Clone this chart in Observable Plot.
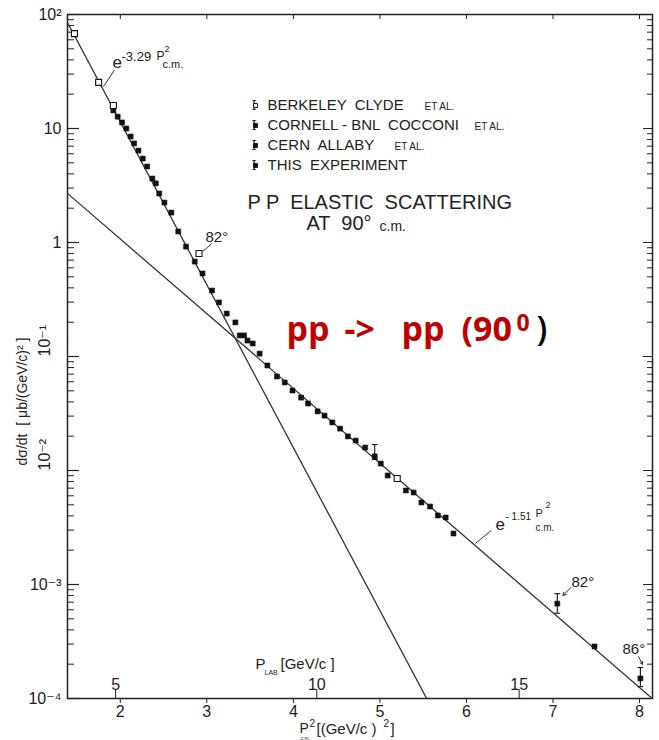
<!DOCTYPE html>
<html>
<head>
<meta charset="utf-8">
<script src="https://cdn.jsdelivr.net/npm/d3@7"></script>
<script src="https://cdn.jsdelivr.net/npm/@observablehq/plot@0.6"></script>
<style>
  html, body { margin: 0; padding: 0; background: #fff; }
  #chart svg { display: block; }
</style>
</head>
<body>
<div id="chart"></div>
<script>
// p² (c.m.) in (GeV/c)², dσ/dt in μb/(GeV/c)²
const berkeleyP2 = [1.47, 1.75, 1.92, 2.91, 5.20];
const berkeleyXS = [68, 25.4, 15.9, 0.80, 0.0085];

const thisP2 = [1.92, 1.97, 2.02, 2.07, 2.12, 2.16, 2.21, 2.26, 2.31, 2.37, 2.41, 2.45, 2.51, 2.59,
  2.67, 2.76, 2.86, 2.95, 3.06, 3.14, 3.23, 3.33, 3.38, 3.43, 3.47, 3.53, 3.61, 3.70, 3.81, 3.90,
  3.99, 4.09, 4.17, 4.28, 4.36, 4.45, 4.54, 4.63, 4.72, 4.83, 5.01, 5.09, 5.30, 5.39, 5.48, 5.58,
  5.67, 5.76, 5.85];
const thisXS = [14.4, 12.7, 11.3, 10.0, 8.5, 7.4, 6.4, 5.45, 4.64, 3.64, 3.30, 2.69, 2.24, 1.83,
  1.25, 0.92, 0.68, 0.535, 0.379, 0.298, 0.238, 0.199, 0.153, 0.153, 0.138, 0.130, 0.106, 0.0834,
  0.0668, 0.0592, 0.0503, 0.0436, 0.0387, 0.0330, 0.0303, 0.0264, 0.0233, 0.0199, 0.0183, 0.0159,
  0.0115, 0.00904, 0.00668, 0.00641, 0.00524, 0.00483, 0.00403, 0.00387, 0.00280];

const cernP2 = [4.94];
const cernXS = [0.0133];

const cornellP2 = [7.05, 7.48, 8.01];
const cornellXS = [6.8e-4, 2.86e-4, 1.5e-4];

// error bars
const errP2 = [4.94, 7.05, 8.01];
const errLo = [0.0125, 5.6e-4, 1.27e-4];
const errHi = [0.0169, 8.3e-4, 1.87e-4];

// fits A·exp(−b·p²)
const fitSlopes = [3.29, 1.51];
const fitAmps = [8240, 22];

// axes
const p2Ticks = [2, 3, 4, 5, 6, 7, 8];
const decadeTicks = [1e-4, 1e-3, 1e-2, 1e-1, 1, 10, 100];
const decadeLabels = ["10⁻⁴", "10⁻³", "10⁻²", "10⁻¹", "1", "10", "10²"];
const plabTicks = [5, 10, 15]; // GeV/c

const protonMass = 0.938;
const plabToP2 = p => protonMass * (Math.sqrt(p * p + protonMass * protonMass) - protonMass) / 2;

const xDomain = [1.39, 8.15];
const yDomain = [1e-4, 1e2];

const minorTicks = [];
for (let e = -4; e < 2; e++) for (let k = 2; k <= 9; k++) minorTicks.push(k * 10 ** e);

const pts = (xs, ys) => xs.map((x, i) => ({x, y: ys[i]}));
const berkeleyPts = pts(berkeleyP2, berkeleyXS);
const filledPts = pts(thisP2, thisXS).concat(pts(cernP2, cernXS), pts(cornellP2, cornellXS));
const errs = errP2.map((x, i) => ({x, lo: errLo[i], hi: errHi[i]}));
const fitLines = fitSlopes.flatMap((b, k) => xDomain.map(x => ({fit: k, x, y: fitAmps[k] * Math.exp(-b * x)})));

// leader lines for the annotations (data space)
const leaders = [
  {x1: 1.805, y1: 23.3, x2: 1.931, y2: 32.3},
  {x1: 2.954, y1: 0.834, x2: 3.057, y2: 0.98},
  {x1: 6.103, y1: 0.00229, x2: 6.287, y2: 0.00298}
];
const arrows = [
  {x1: 7.207, y1: 9.42e-4, x2: 7.115, y2: 8.02e-4},
  {x1: 7.989, y1: 2.33e-4, x2: 8.034, y2: 1.99e-4}
];

const capSymbol = {draw(ctx, size) { const w = Math.sqrt(size) / 2; ctx.moveTo(-w, 0); ctx.lineTo(w, 0); }};

const M = {left: 67, top: 14};
const FONT = "Liberation Sans, DejaVu Sans, sans-serif";
const ink = "#222";
// a text placed by its left edge and vertical centre, in pixels
function label(str, px, py, opts = {}) {
  return Plot.text([str], {
    text: d => d, frameAnchor: "top-left", dx: px - M.left, dy: py - M.top,
    textAnchor: "start", lineAnchor: "middle", fill: ink, fontSize: 14, fontFamily: FONT, ...opts
  });
}

const legendRows = [
  {y: 105, main: "BERKELEY  CLYDE", etal: "ET AL.", etalX: 424, open: true},
  {y: 125, main: "CORNELL - BNL  COCCONI", etal: "ET AL.", etalX: 474},
  {y: 145, main: "CERN  ALLABY", etal: "ET AL.", etalX: 394},
  {y: 165, main: "THIS  EXPERIMENT", etal: "", etalX: 0}
];
const legendMarks = legendRows.flatMap(r => [
  label("I", 251, r.y, {fontSize: 13, fontFamily: "DejaVu Serif, serif"}),
  Plot.dot([r], {frameAnchor: "top-left", dx: 255 - M.left, dy: r.y - M.top, symbol: "square", r: 2.2,
    fill: r.open ? "#fff" : "#111", stroke: "#111", strokeWidth: 1}),
  label(r.main, 267, r.y, {fontSize: 15}),
  label(r.etal, r.etalX, r.y + 1, {fontSize: 10})
]);

const hLabels = decadeTicks.map((v, i) => ({v, t: decadeLabels[i]})).filter(d => d.v !== 0.1 && d.v !== 0.01);
const rLabels = decadeTicks.map((v, i) => ({v, t: decadeLabels[i]})).filter(d => d.v === 0.1 || d.v === 0.01);

const RED = {fontSize: 34, fontWeight: "bold", fill: "#c00000", fontFamily: "Open Sans, sans-serif"};

const marks = [
  Plot.frame({stroke: ink, strokeWidth: 1.5}),
  // y axis ticks (inside), mirrored on the right
  Plot.axisY({anchor: "left", ticks: decadeTicks, tickSize: -12, tickFormat: () => "", label: null, stroke: ink, strokeWidth: 1.2}),
  Plot.axisY({anchor: "left", ticks: minorTicks, tickSize: -7, tickFormat: () => "", label: null, stroke: ink}),
  Plot.axisY({anchor: "right", ticks: decadeTicks, tickSize: -10, tickFormat: () => "", label: null, stroke: ink}),
  Plot.axisY({anchor: "right", ticks: minorTicks, tickSize: -6, tickFormat: () => "", label: null, stroke: ink}),
  // x axis
  Plot.axisX({anchor: "bottom", ticks: p2Ticks, tickSize: 5, tickPadding: 2, tickFormat: d => String(d), label: null,
    fontSize: 16, fontFamily: FONT, fill: ink, stroke: ink}),
  Plot.axisX({anchor: "top", ticks: p2Ticks, tickSize: -4, tickFormat: () => "", label: null, stroke: ink}),
  // lab momentum scale along the bottom edge
  Plot.axisX({anchor: "bottom", ticks: plabTicks.map(plabToP2), tickSize: -9, tickFormat: () => "", label: null, stroke: ink}),
  Plot.text(plabTicks, {x: plabToP2, text: d => String(d), frameAnchor: "bottom", lineAnchor: "middle", dy: -14,
    fontSize: 16, fontFamily: FONT, fill: ink}),
  // y tick labels
  Plot.text(hLabels, {y: "v", text: "t", frameAnchor: "left", dx: -6, textAnchor: "end", fontSize: 16, fontFamily: FONT, fill: ink}),
  Plot.text(rLabels, {y: "v", text: "t", frameAnchor: "left", dx: -23, rotate: -90, fontSize: 16, fontFamily: FONT, fill: ink}),
  // fits
  Plot.line(fitLines, {x: "x", y: "y", z: "fit", stroke: "#333", strokeWidth: 1.3, clip: true}),
  // leaders
  Plot.link(leaders, {x1: "x1", y1: "y1", x2: "x2", y2: "y2", stroke: "#333", strokeWidth: 1}),
  Plot.arrow(arrows, {x1: "x1", y1: "y1", x2: "x2", y2: "y2", stroke: "#333", strokeWidth: 1, headLength: 5}),
  // error bars
  Plot.ruleX(errs, {x: "x", y1: "lo", y2: "hi", stroke: "#111", strokeWidth: 1.1}),
  Plot.dot(errs, {x: "x", y: "hi", symbol: capSymbol, r: 3.2, stroke: "#111", strokeWidth: 1.1}),
  Plot.dot(errs, {x: "x", y: "lo", symbol: capSymbol, r: 3.2, stroke: "#111", strokeWidth: 1.1}),
  // data
  Plot.dot(filledPts, {x: "x", y: "y", symbol: "square", r: 2.8, fill: "#111", stroke: "#111", strokeWidth: 0.6}),
  Plot.dot(berkeleyPts, {x: "x", y: "y", symbol: "square", r: 3.4, fill: "#fff", stroke: "#111", strokeWidth: 1.1}),

  // fit labels
  label("e", 112, 62, {fontSize: 17}),
  label("-3.29", 121, 56, {fontSize: 13}),
  label("P", 156, 56, {fontSize: 12}),
  label("2", 164, 49, {fontSize: 9}),
  label("c.m.", 162, 64, {fontSize: 11}),
  label("82°", 205, 237, {fontSize: 15}),
  label("e", 495, 524, {fontSize: 17}),
  label("- 1.51", 505, 516, {fontSize: 10}),
  label("P", 535, 513, {fontSize: 11}),
  label("2", 545, 505, {fontSize: 9}),
  label("c.m.", 535, 527, {fontSize: 10}),
  label("82°", 571, 582, {fontSize: 15}),
  label("86°", 622, 649, {fontSize: 15}),

  // title
  label("P P  ELASTIC  SCATTERING", 247, 202, {fontSize: 20}),
  label("AT  90°", 306, 223, {fontSize: 20}),
  label("c.m.", 379, 226, {fontSize: 14}),

  // lab momentum caption
  label("P", 255, 664, {fontSize: 15}),
  label("LAB", 264, 672, {fontSize: 7}),
  label("[GeV/c ]", 280, 664, {fontSize: 15}),

  // axis titles
  label("P", 299, 728, {fontSize: 14}),
  label("2", 309, 723, {fontSize: 10}),
  label("[(GeV/c )", 316, 729, {fontSize: 15}),
  label("2", 383, 723, {fontSize: 10}),
  label("]", 390, 729, {fontSize: 15}),
  label("c.m.", 300, 737.5, {fontSize: 5}),
  label("dσ/dt  [ μb/(GeV/c)² ]", 22, 401, {fontSize: 14, rotate: -90, textAnchor: "middle"}),

  // reaction label
  label("pp", 286, 330, RED),
  label("->", 344, 330, RED),
  label("pp", 401, 330, RED),
  label("(90", 461, 330, RED),
  label("0", 516, 323, {...RED, fontSize: 23}),
  label(")", 536, 330, {...RED, fontWeight: "600", fill: "#000"}),

  ...legendMarks
];

const chart = Plot.plot({
  width: 659,
  height: 740,
  marginLeft: 67,
  marginRight: 7,
  marginTop: 14,
  marginBottom: 42,
  x: {domain: xDomain},
  y: {type: "log", domain: yDomain},
  style: {background: "#fff", fontFamily: FONT, color: ink, overflow: "visible"},
  marks
});
document.getElementById("chart").append(chart);
</script>
</body>
</html>
